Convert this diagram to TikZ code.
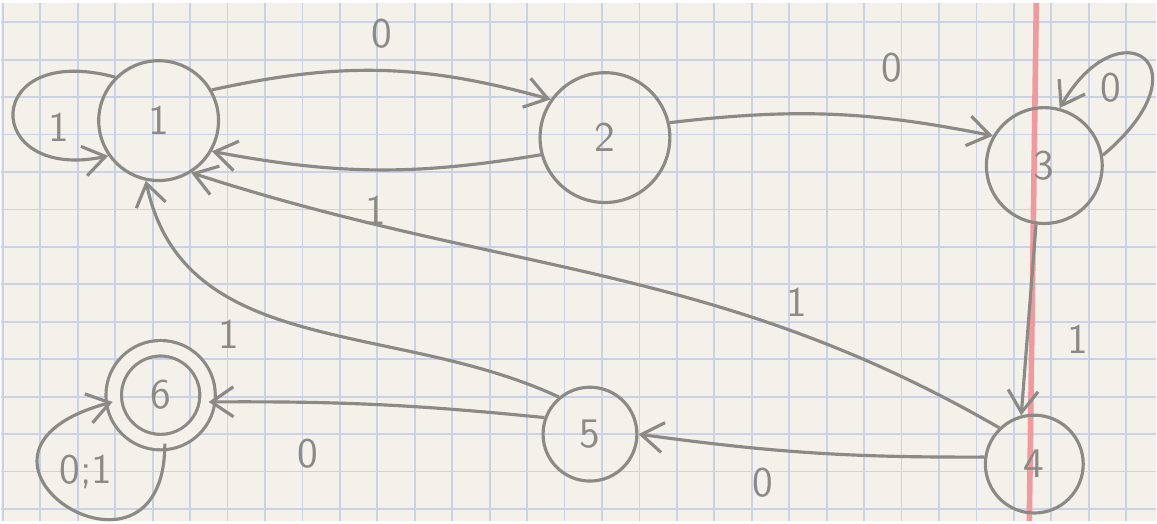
\documentclass[tikz,border=0pt]{standalone}
\usepackage{tikz}
\usetikzlibrary{arrows.meta}

\definecolor{pencil}{HTML}{8C8A86}
\definecolor{paper}{HTML}{F4F1EA}
\definecolor{gridblue}{HTML}{C9D2E6}
\definecolor{margin}{HTML}{EE9A9E}

\begin{document}
\begin{tikzpicture}[
    >={Straight Barb[length=2.2mm,width=3mm]},
    node font=\sffamily\large,
    state/.style={draw=pencil,circle,line width=.9pt,text=pencil,minimum size=#1},
    state/.default=10mm,
    accept/.style={state=9.4mm,double=paper,double distance=3.5pt},
    arr/.style={->,draw=pencil,line width=.9pt},
    lbl/.style={text=pencil,inner sep=2pt}
]
% paper
\fill[paper] (0,0) rectangle (11.57,5.19);
\draw[gridblue,line width=.5pt,shift={(0.02,0.12)}] (-0.02,-0.12) grid[step=0.375] (11.55,5.07);
\draw[margin,line width=1.6pt] (10.37,5.19) -- (10.30,0);
\useasboundingbox (0,0) rectangle (11.57,5.19);

% states
\node[state=12mm] (s1) at (1.58,4.01) {1};
\node[state=13mm] (s2) at (6.05,3.84) {2};
\node[state=11.6mm] (s3) at (10.45,3.56) {3};
\node[state=9.8mm] (s4) at (10.35,0.57) {4};
\node[state=9.4mm] (s5) at (5.90,0.87) {5};
\node[accept] (s6) at (1.60,1.26) {6};

% transitions
\draw[arr] (s1.135) .. controls +(165:1.4) and +(192:1.3) .. (s1.215);
\node[lbl] (l11) at (0.58,3.94) {1};
\draw[arr] (s1.30) to[bend left=14] node[lbl,above=4pt] {0} (s2.145);
\draw[arr] (s2.195) to[bend left=10] node[lbl,below=5pt] {1} (s1.-30);
\draw[arr] (s2.13) to[bend left=9] node[lbl,pos=0.7,above=8pt] {0} (s3.150);
\draw[arr] (s3.10) .. controls +(40:1.4) and +(60:1.2) .. (s3.75);
\node[lbl] (l33) at (11.12,4.34) {0};
\draw[arr] (s3.262) -- node[lbl,pos=0.6,right=9pt] {1} (s4.105);
\draw[arr] (s4.172) to[bend left=4] node[lbl,pos=0.65,below=3pt] {0} (s5.0);
\draw[arr] (s4.134) to[out=150,in=-18] node[lbl,pos=0.25,above=2pt] {1} (s1.-58);
\draw[arr] (s5.130) to[out=155,in=-78] node[lbl,pos=0.62,below left=1pt] {1} (s1.258);
\draw[arr] (s5.160) to[bend right=3] node[lbl,pos=0.72,below=8pt] {0} (s6.-8);
\draw[arr] (s6.275) .. controls +(-90:1.7) and +(195:2.0) .. (s6.188);
\node[lbl] (l66) at (0.85,0.49) {0;1};
\end{tikzpicture}
\end{document}
